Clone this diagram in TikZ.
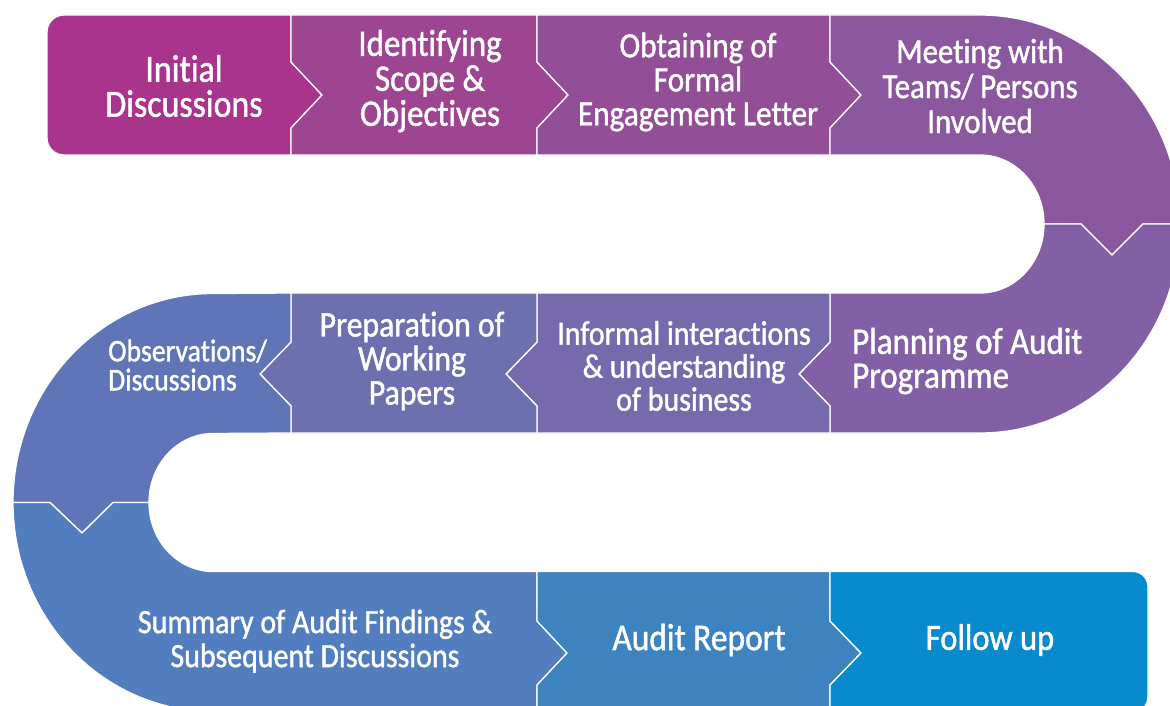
\documentclass[tikz,border=0pt]{standalone}
\usepackage{fontspec}
\setmainfont{Carlito}[FakeStretch=0.88, FakeBold=1.2, Ligatures={NoCommon}]

% step colours, from magenta to blue along the path
\definecolor{segA}{HTML}{A8348C}
\definecolor{segB}{HTML}{9E4592}
\definecolor{segC}{HTML}{934E98}
\definecolor{segD}{HTML}{8B58A0}
\definecolor{segE}{HTML}{8360A6}
\definecolor{segF}{HTML}{776AAC}
\definecolor{segG}{HTML}{6C70AF}
\definecolor{segH}{HTML}{5F75B7}
\definecolor{segI}{HTML}{527EBF}
\definecolor{segJ}{HTML}{3C83C0}
\definecolor{segK}{HTML}{078BCE}

\begin{document}
\begin{tikzpicture}[x=1pt,y=-1pt,
  seg/.style={draw=white, line width=1.3pt, line join=miter},
  lbl/.style={text=white, inner sep=0pt, align=center},
  fs/.style 2 args={font=\fontsize{#1}{#2}\selectfont}]
\clip (0,0) rectangle (1170,706);
\fill[white] (0,0) rectangle (1170,706);

% ---- top row (left to right) ----
\path[seg, fill=segA] (291,15) -- (64,15) arc[start angle=-90, end angle=-180, radius=17]
  -- (47,138) arc[start angle=180, end angle=90, radius=17]
  -- (291,155) -- (291,128) -- (322,95) -- (291,62) -- cycle;
\path[seg, fill=segB] (291,15) -- (537,15) -- (537,62) -- (568,95) -- (537,128) -- (537,155)
  -- (291,155) -- (291,128) -- (322,95) -- (291,62) -- cycle;
\path[seg, fill=segC] (537,15) -- (830,15) -- (830,62) -- (861,95) -- (830,128) -- (830,155)
  -- (537,155) -- (537,128) -- (568,95) -- (537,62) -- cycle;
% right-hand turn
\path[seg, fill=segD] (830,15) -- (980,15)
  arc[start angle=-90, end angle=0, x radius=200, y radius=209]
  -- (1143,224) -- (1112,255) -- (1081,224) -- (1044,224)
  arc[start angle=0, end angle=-90, x radius=64, y radius=69]
  -- (830,155) -- (830,128) -- (861,95) -- (830,62) -- cycle;
\path[seg, fill=segE] (1180,224)
  arc[start angle=0, end angle=90, x radius=200, y radius=209]
  -- (830,433) -- (830,406) -- (799,374) -- (830,342) -- (830,293) -- (980,293)
  arc[start angle=90, end angle=0, x radius=64, y radius=69]
  -- (1081,224) -- (1112,255) -- (1143,224) -- cycle;

% ---- middle row (right to left) ----
\path[seg, fill=segF] (830,293) -- (537,293) -- (537,342) -- (506,374) -- (537,406) -- (537,433)
  -- (830,433) -- (830,406) -- (799,374) -- (830,342) -- cycle;
\path[seg, fill=segG] (537,293) -- (291,293) -- (291,342) -- (260,374) -- (291,406) -- (291,433)
  -- (537,433) -- (537,406) -- (506,374) -- (537,342) -- cycle;
% left-hand turn
\path[seg, fill=segH] (291,293) -- (213,293.5)
  arc[start angle=-90, end angle=-180, x radius=200, y radius=209]
  -- (50,502.5) -- (82,533) -- (113,502.5) -- (149,502.5)
  arc[start angle=180, end angle=270, x radius=64, y radius=69]
  -- (291,433) -- (291,406) -- (260,374) -- (291,342) -- cycle;
\path[seg, fill=segI] (13,502.5)
  arc[start angle=180, end angle=90, x radius=200, y radius=209]
  -- (537,711.5) -- (537,685) -- (567,653) -- (537,621) -- (537,571.5) -- (213,571.5)
  arc[start angle=90, end angle=180, x radius=64, y radius=69]
  -- (113,502.5) -- (82,533) -- (50,502.5) -- cycle;

% ---- bottom row (left to right) ----
\path[seg, fill=segJ] (537,571.5) -- (830,571.5) -- (830,621) -- (861,653) -- (830,685) -- (830,712)
  -- (537,712) -- (537,685) -- (567,653) -- (537,621) -- cycle;
\path[seg, fill=segK] (830,571.5) -- (1133,571.5) arc[start angle=-90, end angle=0, radius=15]
  -- (1148,697) arc[start angle=0, end angle=90, radius=15]
  -- (830,712) -- (830,685) -- (861,653) -- (830,621) -- cycle;

% ---- labels ----
\node[lbl, fs={38.5}{35}] (initial) at (184,86) {Initial\\Discussions};
\node[lbl, fs={37.5}{35}] (scope) at (430,81) {Identifying\\Scope \&\\Objectives};
\node[lbl, fs={35.5}{34}] (letter) at (698,82) {Obtaining of\\Formal\\Engagement Letter};
\node[lbl, fs={35}{35}] (meeting) at (980,86) {Meeting with\\Teams/ Persons\\Involved};
\node[lbl, fs={37.5}{34}, anchor=west, align=left] (planning) at (852,361) {Planning of Audit\\Programme};
\node[lbl, fs={34}{33}] (informal) at (684,366) {Informal interactions\\\& understanding\\of business};
\node[lbl, fs={36}{34}] (papers) at (412,361) {Preparation of\\Working\\Papers};
\node[lbl, fs={31.5}{29}, anchor=west, align=left] (observe) at (108,365) {Observations/\\Discussions};
\node[lbl, fs={34}{34}] (summary) at (315,641) {Summary of Audit Findings \&\\Subsequent Discussions};
\node[lbl, fs={38}{36}] (report) at (699,640) {Audit Report};
\node[lbl, fs={37}{36}] (follow) at (990,640) {Follow up};
\end{tikzpicture}
\end{document}
